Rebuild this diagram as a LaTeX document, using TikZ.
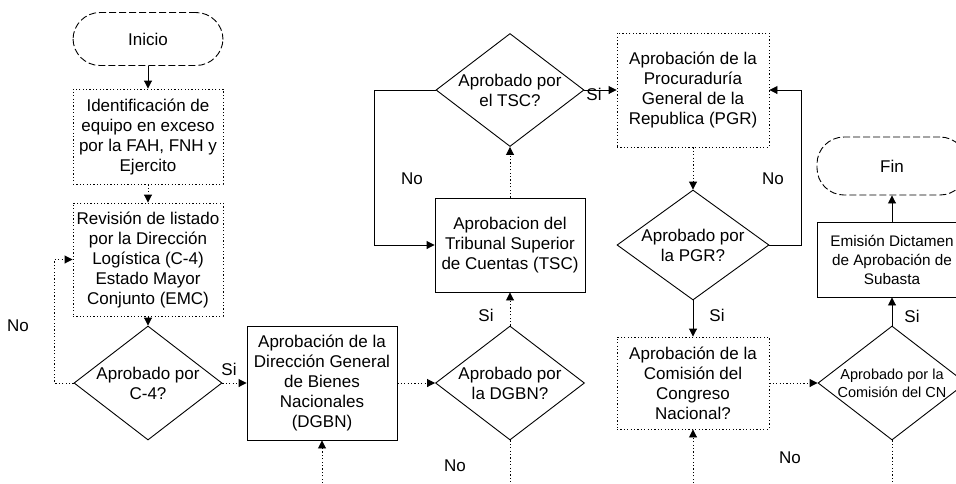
\documentclass[tikz,border=0pt]{standalone}
\usepackage{fontspec}
\setmainfont{Liberation Sans}
\usetikzlibrary{arrows.meta,shapes.geometric}
\begin{document}
\begin{tikzpicture}[x=1pt,y=-1pt,
  font=\fontsize{17}{20}\selectfont,
  every node/.style={text=black},
  ln/.style={line width=0.9pt},
  dt/.style={line width=0.9pt,dash pattern=on 1.2pt off 2.2pt},
  ds/.style={line width=0.9pt,dash pattern=on 7pt off 3pt},
  arr/.style={-{Triangle[length=8pt,width=8pt]}},
  box/.style={rectangle,align=center,inner sep=2pt,minimum width=150pt},
  term/.style={rectangle,rounded corners=27pt,align=center,minimum width=150pt},
  decision/.style={diamond,align=center,inner sep=-40pt,line width=0.9pt,draw},
  lab/.style={inner sep=0pt}
]
\useasboundingbox (0,0) rectangle (956,483);
\clip (0,0) rectangle (956,483);

% nodes
\node[term,ds,draw,minimum height=53pt] (inicio) at (148,39) {Inicio};
\node[box,dt,draw,minimum height=95pt] (ident) at (148,136.5) {Identificación de\\equipo en exceso\\por la FAH, FNH y\\Ejercito};
\node[box,dt,draw,minimum height=113pt] (rev) at (148,259.5) {Revisión de listado\\por la Dirección\\Logística (C-4)\\Estado Mayor\\Conjunto (EMC)};
\node[decision,minimum width=148pt,minimum height=114pt] (c4) at (148,383) {Aprobado por\\C-4?};
\node[box,ln,draw,minimum height=114pt] (dgbn) at (322,383) {Aprobación de la\\Dirección General\\de Bienes\\Nacionales\\(DGBN)};
\node[decision,minimum width=149pt,minimum height=114pt] (dgbnd) at (510,383) {Aprobado por\\la DGBN?};
\node[box,ln,draw,minimum height=94pt] (tsc) at (510,245) {Aprobacion del\\Tribunal Superior\\de Cuentas (TSC)};
\node[decision,minimum width=148pt,minimum height=113pt] (tscd) at (510,90) {Aprobado por\\el TSC?};
\node[box,dt,draw,minimum width=152pt,minimum height=114pt] (pgr) at (693,90) {Aprobación de la\\Procuraduría\\General de la\\Republica (PGR)};
\node[decision,minimum width=152pt,minimum height=110pt] (pgrd) at (693,245) {Aprobado por\\la PGR?};
\node[box,dt,draw,minimum width=152pt,minimum height=92pt] (com) at (693,383) {Aprobación de la\\Comisión del\\Congreso\\Nacional?};
\node[decision,minimum width=148pt,minimum height=114pt,font=\fontsize{14.5}{18}\selectfont] (cnd) at (892,383) {Aprobado por la\\Comisión del CN};
\node[box,ln,draw,minimum height=75pt,font=\fontsize{15.3}{19}\selectfont] (emis) at (892,259.5) {Emisión Dictamen\\de Aprobación de\\Subasta};
\node[term,ds,draw,minimum height=58pt] (fin) at (892,166) {Fin};

% labels
\node[lab] (no1) at (18,326) {No};
\node[lab] (si1) at (229,369) {Si};
\node[lab] (si2) at (486,315) {Si};
\node[lab] (no2) at (455,466) {No};
\node[lab] (no3) at (412,179) {No};
\node[lab] (si3) at (594,94) {Si};
\node[lab] (no4) at (773,179) {No};
\node[lab] (si4) at (717,315) {Si};
\node[lab] (no5) at (790,458) {No};
\node[lab] (si5) at (912,316) {Si};

% free ends
\coordinate (b1) at (322,490);
\coordinate (b2) at (510,490);
\coordinate (b3) at (693,490);
\coordinate (b4) at (892,490);

% connectors
\draw[ln,arr] (inicio) -- (ident);
\draw[dt,arr] (ident) -- (rev);
\draw[ln,arr] (rev) -- (c4);
\draw[dt,arr] (c4.west) -- ++(-19,0) |- (rev.west);
\draw[dt,arr] (c4.east) -- (dgbn.west);
\draw[dt,arr] (b1) -- (dgbn.south);
\draw[dt,arr] (dgbn.east) -- (dgbnd.west);
\draw[dt] (dgbnd.south) -- (b2);
\draw[dt,arr] (dgbnd.north) -- (tsc.south);
\draw[dt,arr] (tsc.north) -- (tscd.south);
\draw[ln,arr] (tscd.west) -- ++(-61,0) |- (tsc.west);
\draw[ln,arr] (tscd.east) -- (pgr.west);
\draw[dt,arr] (pgr.south) -- (pgrd.north);
\draw[ln,arr] (pgrd.east) -- ++(32,0) |- (pgr.east);
\draw[ln,arr] (pgrd.south) -- (com.north);
\draw[dt,arr] (b3) -- (com.south);
\draw[dt,arr] (com.east) -- (cnd.west);
\draw[dt] (cnd.south) -- (b4);
\draw[ln,arr] (cnd.north) -- (emis.south);
\draw[ln,arr] (emis.north) -- (fin.south);
\end{tikzpicture}
\end{document}
